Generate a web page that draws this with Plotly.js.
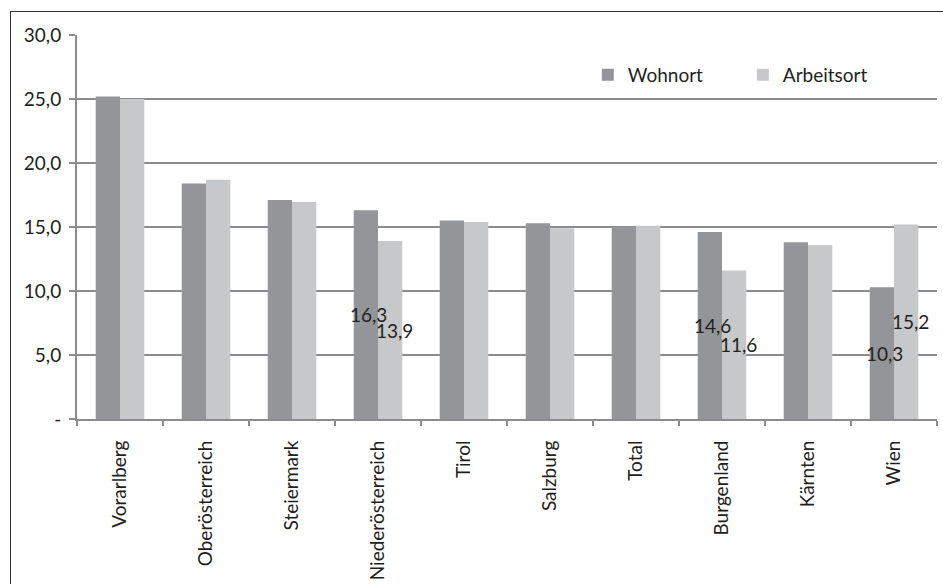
<!DOCTYPE html>
<html>
<head>
<meta charset="utf-8">
<script src="https://cdn.plot.ly/plotly-3.0.1.min.js"></script>
<style>
  html, body { margin: 0; padding: 0; background: #fff; }
  #wrap { position: relative; width: 943px; height: 584px; }
  #chart { width: 943px; height: 584px; }
  #frame { position: absolute; left: 10px; top: 11px; width: 940px; height: 590px;
           border: 1.5px solid #333; pointer-events: none; box-sizing: border-box; }
</style>
</head>
<body>
<div id="wrap">
  <div id="chart"></div>
  <div id="frame"></div>
</div>
<script>
const categories = ["Vorarlberg", "Oberösterreich", "Steiermark", "Niederösterreich", "Tirol",
                    "Salzburg", "Total", "Burgenland", "Kärnten", "Wien"];
const wohnort    = [25.2, 18.4, 17.1, 16.3, 15.5, 15.3, 15.0, 14.6, 13.8, 10.3];
const arbeitsort = [25.0, 18.7, 16.95, 13.9, 15.4, 14.9, 15.1, 11.6, 13.6, 15.2];
const wohnortLabels    = ["", "", "", "16,3", "", "", "", "14,6", "", "10,3"];
const arbeitsortLabels = ["", "", "", "13,9", "", "", "", "11,6", "", "15,2"];
const yTickVals = [0, 5, 10, 15, 20, 25, 30];
const yTickText = ["-", "5,0", "10,0", "15,0", "20,0", "25,0", "30,0"];

const FONT = "Lato, 'Open Sans', sans-serif";
const TXT = "#231f20";
const FS = 19;

const traces = [
  {
    type: "bar", name: "Wohnort", x: categories, y: wohnort,
    marker: { color: "#939598", line: { width: 0 } }, hoverinfo: "skip"
  },
  {
    type: "bar", name: "Arbeitsort", x: categories, y: arbeitsort,
    marker: { color: "#c7c8ca", line: { width: 0 } }, hoverinfo: "skip"
  }
];

// data labels placed at mid-height of their bars (as in the reference)
const annotations = [];
function addLabels(values, labels, shift) {
  labels.forEach((t, i) => {
    if (!t) return;
    annotations.push({
      xref: "x", yref: "y", x: categories[i], y: values[i] / 2,
      text: t, showarrow: false, xshift: shift,
      xanchor: "center", yanchor: "middle",
      font: { family: FONT, size: FS, color: TXT }
    });
  });
}
addLabels(wohnort, wohnortLabels, -10);
addLabels(arbeitsort, arbeitsortLabels, 16);

const layout = {
  width: 943, height: 584,
  margin: { l: 77, r: 6, t: 35, b: 165 },
  paper_bgcolor: "#fff", plot_bgcolor: "#fff",
  font: { family: FONT, size: FS, color: TXT },
  barmode: "group",
  bargap: 0.435,
  bargroupgap: 0,
  showlegend: true,
  legend: {
    orientation: "h",
    x: 0.594, xanchor: "left",
    y: 0.896, yanchor: "middle",
    font: { family: FONT, size: FS, color: TXT },
    entrywidth: 110,
    bgcolor: "rgba(0,0,0,0)",
    traceorder: "normal"
  },
  annotations: annotations,
  xaxis: {
    type: "category",
    tickangle: -90,
    tickfont: { family: FONT, size: FS, color: TXT },
    showline: true, linecolor: "#8c8c8c", linewidth: 2,
    ticks: "outside", ticklen: 5, tickwidth: 2, tickcolor: "#8c8c8c",
    tickson: "boundaries",
    ticklabelstandoff: 12,
    showgrid: false, zeroline: false,
    fixedrange: true
  },
  yaxis: {
    range: [0, 30],
    tickvals: yTickVals, ticktext: yTickText,
    tickfont: { family: FONT, size: FS, color: TXT },
    showline: true, linecolor: "#8c8c8c", linewidth: 2,
    ticks: "outside", ticklen: 6, tickwidth: 2, tickcolor: "#8c8c8c",
    showgrid: true, gridcolor: "#8c8c8c", gridwidth: 2,
    zeroline: false,
    ticklabelstandoff: 4,
    fixedrange: true
  }
};

Plotly.newPlot("chart", traces, layout, { staticPlot: true, displayModeBar: false });
</script>
</body>
</html>
